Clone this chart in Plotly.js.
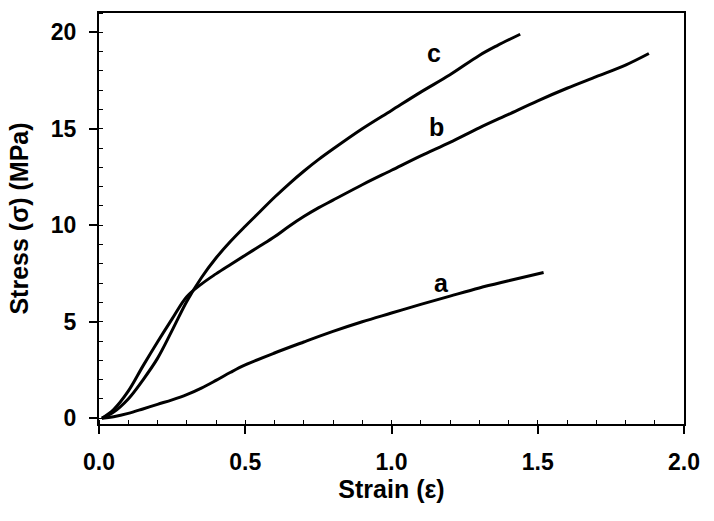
<!DOCTYPE html>
<html>
<head>
<meta charset="utf-8">
<script src="https://cdn.plot.ly/plotly-3.0.1.min.js"></script>
<style>html,body{margin:0;padding:0;background:#fff;}#chart{width:714px;height:521px;}</style>
</head>
<body>
<div id="chart"></div>
<script>
// Curve a
const strainA = [0.01, 0.05, 0.10, 0.15, 0.20, 0.25, 0.30, 0.35, 0.40, 0.45, 0.50, 0.60, 0.70, 0.80, 0.90, 1.00, 1.10, 1.20, 1.30, 1.40, 1.52];
const stressA = [0.0, 0.08, 0.25, 0.48, 0.72, 0.95, 1.22, 1.56, 1.96, 2.38, 2.76, 3.38, 3.95, 4.5, 5.0, 5.45, 5.9, 6.33, 6.75, 7.12, 7.55];
// Curve b
const strainB = [0.01, 0.05, 0.10, 0.15, 0.20, 0.25, 0.30, 0.35, 0.40, 0.45, 0.50, 0.55, 0.60, 0.65, 0.70, 0.75, 0.80, 0.90, 1.00, 1.10, 1.20, 1.30, 1.40, 1.50, 1.60, 1.70, 1.80, 1.88];
const stressB = [0.0, 0.45, 1.4, 2.7, 3.95, 5.15, 6.3, 6.95, 7.48, 7.97, 8.45, 8.92, 9.4, 9.95, 10.45, 10.9, 11.3, 12.1, 12.85, 13.6, 14.3, 15.05, 15.75, 16.45, 17.1, 17.7, 18.3, 18.9];
// Curve c
const strainC = [0.01, 0.05, 0.10, 0.15, 0.20, 0.25, 0.30, 0.35, 0.40, 0.45, 0.50, 0.55, 0.60, 0.65, 0.70, 0.75, 0.80, 0.90, 1.00, 1.10, 1.20, 1.30, 1.36, 1.44];
const stressC = [0.0, 0.32, 1.0, 1.98, 3.1, 4.55, 6.05, 7.28, 8.3, 9.17, 9.95, 10.7, 11.45, 12.15, 12.8, 13.4, 13.95, 15.0, 15.95, 16.9, 17.8, 18.8, 19.3, 19.9];
// Tick labels
const xTickVals = [0, 0.5, 1.0, 1.5, 2.0];
const xTickText = ['0.0', '0.5', '1.0', '1.5', '2.0'];
const yTickVals = [0, 5, 10, 15, 20];
const yTickText = ['0', '5', '10', '15', '20'];
// Curve labels
const labelText = ['a', 'b', 'c'];
const labelX = [1.17, 1.155, 1.145];
const labelY = [7.0, 15.1, 18.95];

const font = 'Arial, "Liberation Sans", sans-serif';
const lineStyle = {color: '#000', width: 3, shape: 'spline', smoothing: 1};

const traces = [
  {x: strainA, y: stressA, mode: 'lines', line: lineStyle, hoverinfo: 'skip'},
  {x: strainB, y: stressB, mode: 'lines', line: lineStyle, hoverinfo: 'skip'},
  {x: strainC, y: stressC, mode: 'lines', line: lineStyle, hoverinfo: 'skip'}
];

const annotations = labelText.map((t, i) => ({
  x: labelX[i], y: labelY[i], xref: 'x', yref: 'y', text: '<b>' + t + '</b>',
  showarrow: false, font: {family: font, size: 25, color: '#000'}
}));

const bold = a => a.map(s => '<b>' + s + '</b>');

const layout = {
  width: 714, height: 521,
  margin: {l: 99, r: 30, t: 13, b: 97},
  paper_bgcolor: '#fff', plot_bgcolor: '#fff',
  showlegend: false,
  font: {family: font, color: '#000'},
  xaxis: {
    range: [0, 2], tickmode: 'array', tickvals: xTickVals, ticktext: bold(xTickText),
    showgrid: false, zeroline: false,
    showline: true, linecolor: '#000', linewidth: 2, mirror: true,
    ticks: 'outside', ticklen: 8, tickwidth: 2, tickcolor: '#000',
    minor: {ticks: 'inside', dtick: 0.1, tick0: 0, ticklen: 4, tickwidth: 1, tickcolor: '#000', showgrid: false},
    tickfont: {family: font, size: 23, color: '#000'},
    ticklabelstandoff: 8,
    title: {text: '<b>Strain (ε)</b>', font: {family: font, size: 25, color: '#000'}, standoff: 4}
  },
  yaxis: {
    range: [-0.3, 21], tickmode: 'array', tickvals: yTickVals, ticktext: bold(yTickText),
    showgrid: false, zeroline: false,
    showline: true, linecolor: '#000', linewidth: 2, mirror: true,
    ticks: 'outside', ticklen: 8, tickwidth: 2, tickcolor: '#000',
    minor: {ticks: 'inside', dtick: 1, tick0: 0, ticklen: 4, tickwidth: 1, tickcolor: '#000', showgrid: false},
    tickfont: {family: font, size: 23, color: '#000'},
    ticklabelstandoff: 8,
    title: {text: '<b>Stress (σ) (MPa)</b>', font: {family: font, size: 25, color: '#000'}, standoff: 15}
  },
  annotations: annotations
};

Plotly.newPlot('chart', traces, layout, {displayModeBar: false, staticPlot: true});
</script>
</body>
</html>
